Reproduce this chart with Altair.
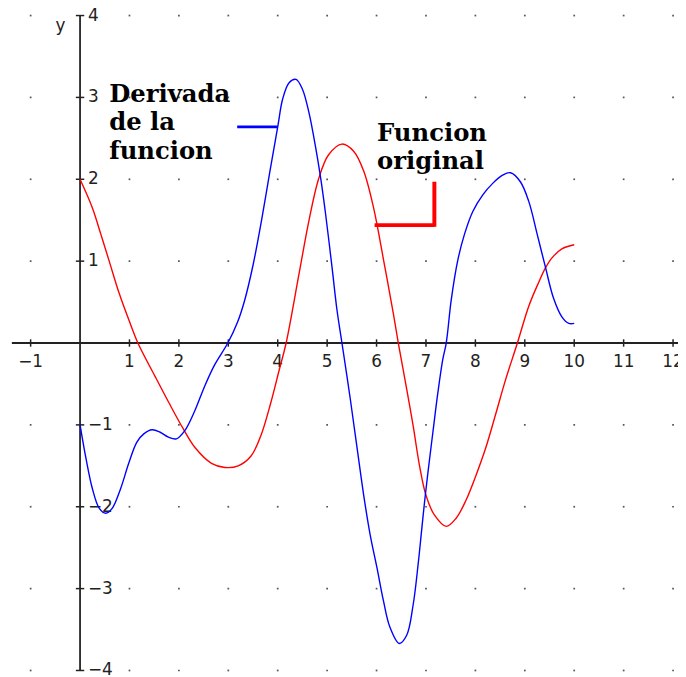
import altair as alt
import pandas as pd

# ---- data ----
red_x = [0, 0.25, 0.42, 0.59, 0.79, 1.02, 1.17, 1.52, 1.79, 2.09, 2.33, 2.66, 2.93, 3.2, 3.46, 3.66,
         3.86, 4.03, 4.17, 4.43, 4.63, 4.83, 5.03, 5.30, 5.54, 5.74, 5.94, 6.14, 6.34, 6.44, 6.6,
         6.74, 6.87, 7.0, 7.17, 7.41, 7.61, 7.81, 8.01, 8.21, 8.41, 8.61, 8.85, 9.08, 9.28, 9.42,
         9.55, 9.75, 10.0]
red_y = [2.0, 1.65, 1.33, 1.0, 0.61, 0.23, 0.0, -0.41, -0.72, -1.05, -1.28, -1.47, -1.52, -1.50,
         -1.38, -1.13, -0.73, -0.33, 0.0, 0.84, 1.49, 2.01, 2.30, 2.43, 2.34, 2.10, 1.65, 1.02, 0.36,
         0.0, -0.53, -1.01, -1.50, -1.86, -2.10, -2.24, -2.14, -1.92, -1.62, -1.28, -0.87, -0.45,
         0.0, 0.45, 0.74, 0.92, 1.04, 1.15, 1.20]

blue_x = [0, 0.12, 0.25, 0.39, 0.52, 0.65, 0.82, 0.99, 1.15, 1.29, 1.46, 1.62, 1.79, 1.95, 2.12,
          2.32, 2.52, 2.72, 2.99, 3.19, 3.33, 3.5, 3.67, 3.84, 4.0, 4.1, 4.23, 4.37, 4.5, 4.63,
          4.77, 4.87, 4.97, 5.1, 5.2, 5.3, 5.47, 5.61, 5.74, 5.87, 6.01, 6.14, 6.27, 6.46, 6.61,
          6.74, 6.84, 6.91, 6.97, 7.04, 7.14, 7.24, 7.34, 7.41, 7.51, 7.64, 7.78, 7.95, 8.15,
          8.35, 8.55, 8.71, 8.91, 9.08, 9.25, 9.42, 9.58, 9.75, 9.89, 10.0]
blue_y = [-1.0, -1.41, -1.78, -2.02, -2.08, -2.02, -1.78, -1.46, -1.21, -1.11, -1.06, -1.09, -1.15,
          -1.17, -1.07, -0.83, -0.53, -0.27, 0.0, 0.26, 0.52, 0.95, 1.49, 2.09, 2.64, 2.98, 3.18,
          3.22, 3.10, 2.82, 2.38, 2.01, 1.57, 0.92, 0.40, 0.0, -0.69, -1.30, -1.86, -2.34, -2.75,
          -3.15, -3.47, -3.67, -3.57, -3.2, -2.71, -2.30, -1.95, -1.58, -1.09, -0.61, -0.2, 0.0,
          0.52, 1.0, 1.33, 1.61, 1.81, 1.95, 2.05, 2.08, 1.97, 1.73, 1.33, 0.92, 0.55, 0.32, 0.24,
          0.24]

x_ticks = [-1, 1, 2, 3, 4, 5, 6, 7, 8, 9, 10, 11, 12]
y_ticks = [-4, -3, -2, -1, 1, 2, 3, 4]
x_tick_labels = ["\u22121", "1", "2", "3", "4", "5", "6", "7", "8", "9", "10", "11", "12"]
y_tick_labels = ["\u22124", "\u22123", "\u22122", "\u22121", "1", "2", "3", "4"]

deriv_lines = ["Derivada", "de la", "funcion"]
orig_lines = ["Funcion", "original"]

# ---- scales ----
XDOM = [-1.458, 12.10]
YDOM = [-4.019, 4.056]
xs = alt.Scale(domain=XDOM, nice=False, zero=False)
ys = alt.Scale(domain=YDOM, nice=False, zero=False)


def X(f="x"):
    return alt.X(f"{f}:Q", scale=xs, axis=None)


def Y(f="y"):
    return alt.Y(f"{f}:Q", scale=ys, axis=None)


# grid dots
dots = pd.DataFrame([{"x": gx, "y": gy} for gx in range(-1, 13) for gy in range(-4, 5)
                     if gx != 0 and gy != 0])
grid = alt.Chart(dots).mark_square(size=3, color="#444", opacity=0.9).encode(x=X(), y=Y())

# axes
axes_df = pd.DataFrame([
    {"x": 0, "x2": 0, "y": -4.0, "y2": 4.0},
    {"x": -1.38, "x2": 12.10, "y": 0, "y2": 0},
])
axes = alt.Chart(axes_df).mark_rule(color="#222", strokeWidth=1.8).encode(
    x=X(), x2="x2:Q", y=Y(), y2="y2:Q")

xt = pd.DataFrame({"x": x_ticks, "lab": x_tick_labels})
xt["y"] = -0.045
xt["y2"] = 0.045
xtick_marks = alt.Chart(xt).mark_rule(color="#222", strokeWidth=1.5).encode(
    x=X(), y=Y(), y2="y2:Q")
xtick_labels = alt.Chart(xt.assign(y=0)).mark_text(
    font="DejaVu Sans", fontSize=17, color="#222", align="center", baseline="middle", dy=19
).encode(x=X(), y=Y(), text="lab:N")

yt = pd.DataFrame({"y": y_ticks, "lab": y_tick_labels})
yt["x"] = -0.085
yt["x2"] = 0.085
ytick_marks = alt.Chart(yt).mark_rule(color="#222", strokeWidth=1.5).encode(
    x=X(), x2="x2:Q", y=Y())
ytick_labels = alt.Chart(yt.assign(x=0)).mark_text(
    font="DejaVu Sans", fontSize=17, color="#222", align="left", baseline="middle", dx=8
).encode(x=X(), y=Y(), text="lab:N")

ylab = alt.Chart(pd.DataFrame({"x": [-0.395], "y": [3.81], "t": ["y"]})).mark_text(
    font="DejaVu Sans", fontSize=17, color="#222", align="center", baseline="alphabetic"
).encode(x=X(), y=Y(), text="t:N")

# curves
red_df = pd.DataFrame({"x": red_x, "y": red_y, "o": range(len(red_x))})
blue_df = pd.DataFrame({"x": blue_x, "y": blue_y, "o": range(len(blue_x))})
red = alt.Chart(red_df).mark_line(color="#ff0000", strokeWidth=1.4, interpolate="catmull-rom").encode(
    x=X(), y=Y(), order="o:Q")
blue = alt.Chart(blue_df).mark_line(color="#0000ff", strokeWidth=1.4, interpolate="catmull-rom").encode(
    x=X(), y=Y(), order="o:Q")

# annotation pointers
blue_ptr = alt.Chart(pd.DataFrame({"x": [3.18], "x2": [4.0], "y": [2.64], "y2": [2.64]})).mark_rule(
    color="#0000ff", strokeWidth=3).encode(x=X(), x2="x2:Q", y=Y(), y2="y2:Q")
red_ptr = alt.Chart(pd.DataFrame({"x": [5.96, 7.17], "x2": [7.17, 7.17],
                                  "y": [1.44, 1.42], "y2": [1.44, 1.97]})).mark_rule(
    color="#ff0000", strokeWidth=4).encode(x=X(), x2="x2:Q", y=Y(), y2="y2:Q")

ann_df = pd.DataFrame({
    "x": [0.59, 0.59, 0.59, 6.01, 6.01],
    "y": [2.95, 2.60, 2.25, 2.47, 2.12],
    "t": deriv_lines + orig_lines,
})
ann = alt.Chart(ann_df).mark_text(
    font="DejaVu Serif", fontWeight="bold", fontSize=24.5, color="#000", align="left",
    baseline="alphabetic"
).encode(x=X(), y=Y(), text="t:N")

chart = alt.layer(
    grid, axes, xtick_marks, ytick_marks, xtick_labels, ytick_labels, ylab,
    red, blue, blue_ptr, red_ptr, ann
).properties(
    width=676, height=667, autosize=alt.AutoSizeParams(type="none"), padding=0
).configure_view(strokeWidth=0)

chart.save("out.html", embed_options={"renderer": "svg", "actions": False})
